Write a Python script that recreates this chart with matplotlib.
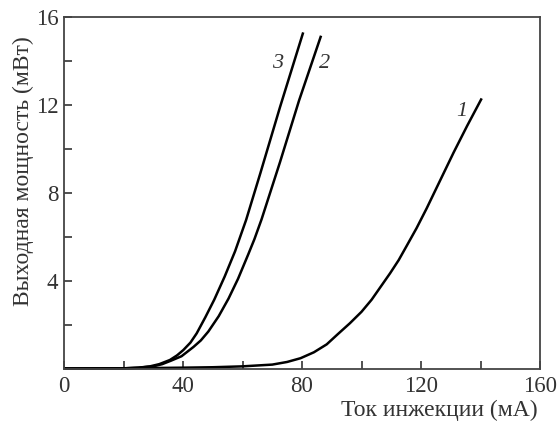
import matplotlib
matplotlib.use("Agg")
import matplotlib.pyplot as plt
from matplotlib.ticker import MultipleLocator

plt.rcParams['font.family'] = ['Liberation Serif', 'DejaVu Serif']

# Output power (mW) vs injection current (mA) for three laser samples
current_1 = [0, 20, 40, 50, 60, 70, 75, 79.5, 84, 88.3, 92, 96.1, 100, 103.4, 106.5,
             109.6, 112.5, 115.2, 118.5, 121.9, 126, 131, 135.5, 140.4]
power_1 = [0.02, 0.03, 0.06, 0.08, 0.12, 0.2, 0.32, 0.49, 0.76, 1.12, 1.58, 2.08, 2.6,
           3.15, 3.75, 4.35, 4.95, 5.6, 6.4, 7.3, 8.45, 9.85, 11.05, 12.3]

current_2 = [0, 20, 25, 30, 33, 36, 39.5, 43.5, 46, 48.5, 52, 55.3, 58.5, 61.9, 64,
             66.4, 72.6, 79, 86.4]
power_2 = [0.02, 0.03, 0.06, 0.12, 0.22, 0.38, 0.58, 1.0, 1.3, 1.7, 2.4, 3.2, 4.1, 5.2,
           5.9, 6.8, 9.4, 12.2, 15.15]

current_3 = [0, 20, 25, 28.9, 32, 35.6, 38, 40.1, 42.5, 44.6, 47.5, 50.5, 54, 57.5,
             61.2, 66, 72.6, 80.4]
power_3 = [0.02, 0.03, 0.06, 0.12, 0.22, 0.41, 0.62, 0.86, 1.2, 1.62, 2.35, 3.15, 4.2,
           5.35, 6.77, 8.9, 11.9, 15.3]

curve_labels = ["1", "2", "3"]
label_pos = [(133.8, 11.7), (87.7, 13.9), (71.9, 13.9)]

x_ticks = [0, 40, 80, 120, 160]
y_ticks = [4, 8, 12, 16]

fig = plt.figure(figsize=(5.57, 4.23), dpi=100)
ax = fig.add_axes([64 / 557, 1 - 369 / 423, 476 / 557, 352 / 423])

for xs, ys in [(current_1, power_1), (current_2, power_2), (current_3, power_3)]:
    ax.plot(xs, ys, color='black', lw=1.8, clip_on=False,
            solid_capstyle='butt', solid_joinstyle='round')

for txt, (lx, ly) in zip(curve_labels, label_pos):
    ax.text(lx, ly, txt, fontsize=16, style='italic', ha='center', va='center',
            color='#333333')

ax.set_xlim(0, 160)
ax.set_ylim(0, 16)
ax.set_xticks(x_ticks)
ax.set_yticks(y_ticks)
ax.xaxis.set_minor_locator(MultipleLocator(20))
ax.yaxis.set_minor_locator(MultipleLocator(2))
ax.tick_params(which='both', direction='in', length=6, width=1.2, color='#333333',
               labelsize=16.5, labelcolor='#333333', top=False, right=False)
ax.tick_params(axis='x', pad=5)
ax.tick_params(axis='y', pad=4)
for sp in ax.spines.values():
    sp.set_color('#444444')
    sp.set_linewidth(1.3)

fig.text(439 / 557, 1 - 410 / 423, "Ток инжекции (мА)", ha='center', va='center',
         fontsize=17, color='#333333')
fig.text(23 / 557, 1 - 171 / 423, "Выходная мощность (мВт)", ha='center', va='center',
         rotation=90, fontsize=17, color='#333333')

fig.savefig("out.png", dpi=100)
